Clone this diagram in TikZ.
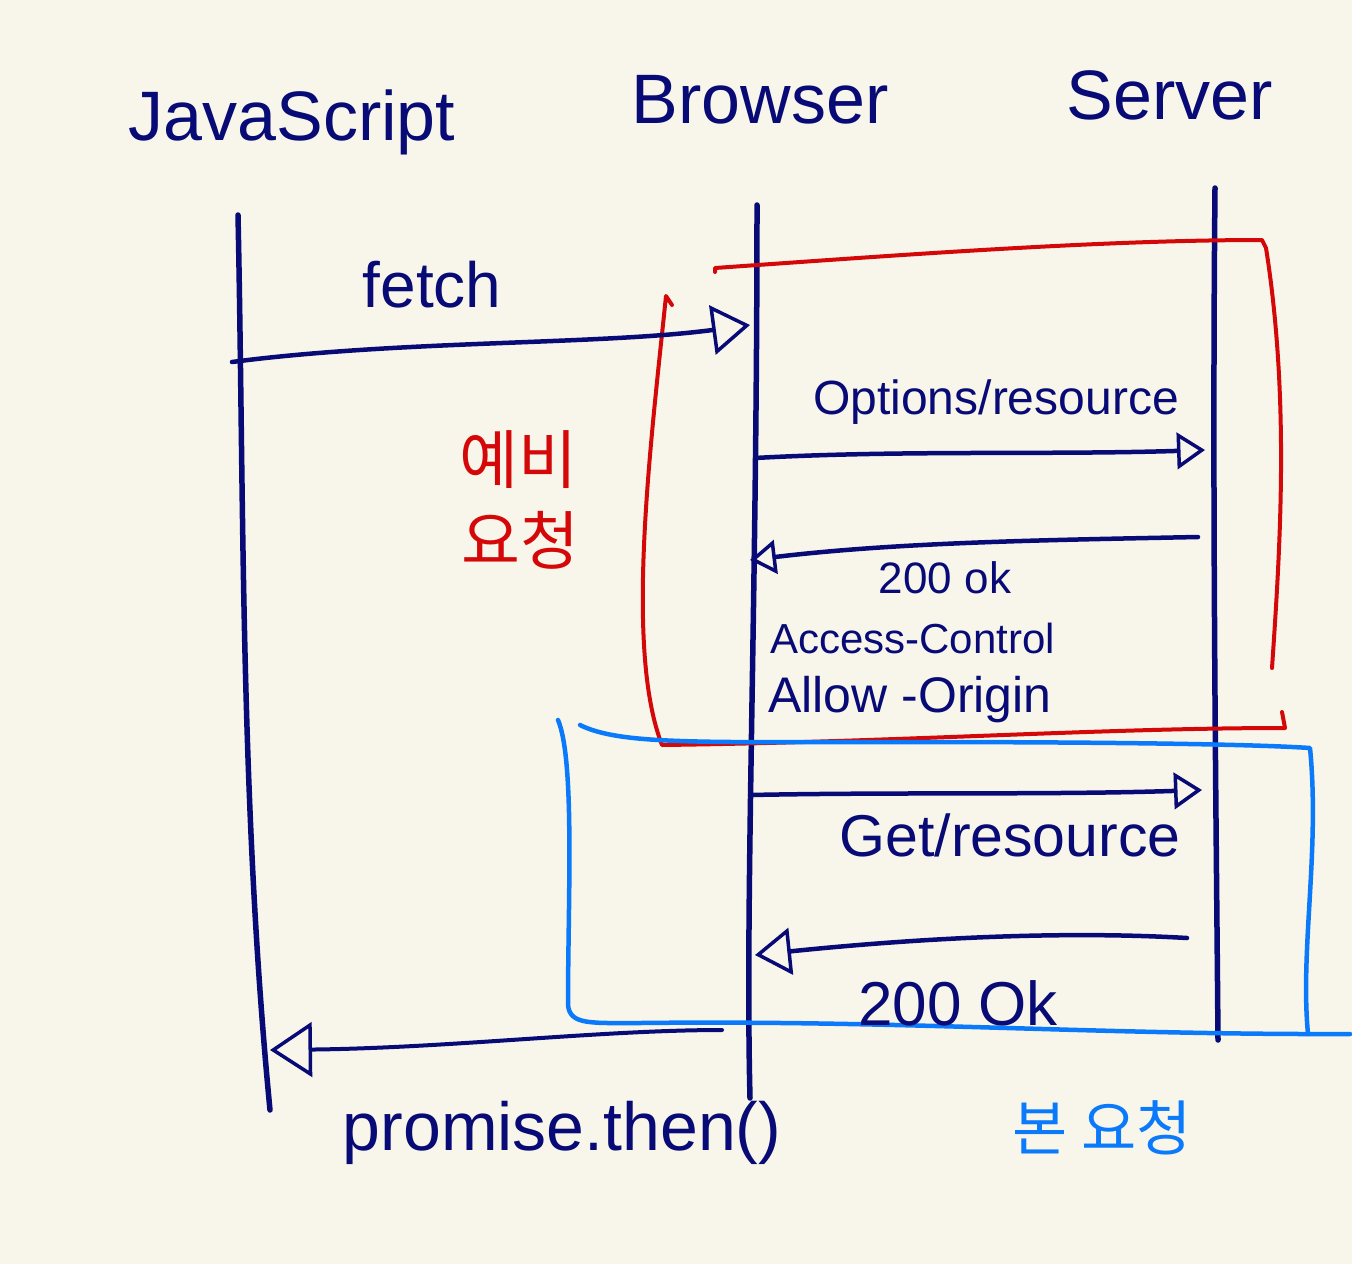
\documentclass[tikz,border=0pt]{standalone}
\usepackage{fontspec}
\setmainfont{Liberation Sans}
\newfontfamily\kor{Noto Sans CJK KR}
\usetikzlibrary{arrows.meta}
\definecolor{paper}{RGB}{248,246,234}
\definecolor{ink}{RGB}{8,10,118}
\definecolor{redink}{RGB}{212,8,8}
\definecolor{blueink}{RGB}{10,122,250}
\tikzset{
  lifeline/.style={draw=ink, line width=5.5pt, line cap=round},
  msg/.style={draw=ink, line width=4.5pt, line cap=round, line join=round},
  tip/.style={-{Triangle[open,length=#1,width=1.3*#1,line width=3.5pt]}},
  redbox/.style={draw=redink, line width=4pt, line cap=round, line join=round},
  bluebox/.style={draw=blueink, line width=4.5pt, line cap=round, line join=round},
  title/.style={text=ink, font=\fontsize{70}{70}\selectfont, inner sep=0pt},
  lbl/.style={text=ink, inner sep=0pt},
  redlbl/.style={text=redink, font=\kor\fontsize{64}{64}\selectfont, inner sep=0pt},
  bluelbl/.style={text=blueink, font=\kor\fontsize{60}{60}\selectfont, inner sep=0pt}
}
\begin{document}
\begin{tikzpicture}[x=1pt,y=-1pt]
\fill[paper] (0,0) rectangle (1352,1264);
\useasboundingbox (0,0) rectangle (1352,1264);

% titles
\node[title] (tjs) at (292,122) {JavaScript};
\node[title] (tbr) at (760,100) {Browser};
\node[title] (tsv) at (1170,95) {Server};

% lifelines
\coordinate (js1) at (238,215);
\coordinate (js2) at (270,1110);
\coordinate (br1) at (757,205);
\coordinate (br2) at (750,1098);
\coordinate (sv1) at (1215,188);
\coordinate (sv2) at (1218,1040);
\draw[lifeline] (js1) .. controls (244,500) and (240,800) .. (js2);
\draw[lifeline] (br1) .. controls (757,600) and (745,900) .. (br2);
\draw[lifeline] (sv1) .. controls (1212,500) and (1216,800) .. (sv2);

% red box (preflight)
\draw[redbox] (715,272) -- (715,268) .. controls (900,255) and (1100,240) .. (1262,240)
  -- (1266,248) .. controls (1290,400) and (1280,550) .. (1272,668);
\draw[redbox] (672,305) -- (666,296) .. controls (650,450) and (625,650) .. (662,745)
  .. controls (900,742) and (1100,728) .. (1285,728) -- (1282,712);

% blue box (main request)
\draw[bluebox] (558,720) .. controls (575,760) and (568,900) .. (568,1005)
  .. controls (570,1025) and (590,1023) .. (640,1023)
  .. controls (900,1020) and (1100,1035) .. (1350,1034);
\draw[bluebox] (580,725) .. controls (620,745) and (700,742) .. (900,742)
  .. controls (1100,742) and (1250,744) .. (1310,748)
  .. controls (1320,850) and (1300,950) .. (1308,1034);

% messages
\coordinate (f1) at (232,362);
\coordinate (f2) at (750,325);
\draw[msg, tip=38] (f1) .. controls (400,340) and (600,345) .. (f2);
\node[lbl, font=\fontsize{64}{64}\selectfont] (lf) at (432,285) {fetch};

\coordinate (o1) at (755,458);
\coordinate (o2) at (1205,450);
\draw[msg, tip=28] (o1) .. controls (900,450) and (1050,455) .. (o2);
\node[lbl, font=\fontsize{48}{48}\selectfont] (lo) at (996,402) {Options/resource};

\coordinate (r1) at (1198,537);
\coordinate (r2) at (750,560);
\draw[msg, tip=26] (r1) .. controls (1050,540) and (900,542) .. (r2);
\node[lbl, font=\fontsize{44}{44}\selectfont] (lr) at (945,578) {200 ok};
\node[lbl, font=\fontsize{42}{42}\selectfont, anchor=west] (lac) at (770,638) {Access-Control};
\node[lbl, font=\fontsize{50}{50}\selectfont, anchor=west] (lao) at (768,700) {Allow -Origin};

\coordinate (g1) at (750,795);
\coordinate (g2) at (1202,790);
\draw[msg, tip=28] (g1) .. controls (900,792) and (1050,795) .. (g2);
\node[lbl, font=\fontsize{59}{59}\selectfont] (lg) at (1010,835) {Get/resource};

\coordinate (k1) at (1187,938);
\coordinate (k2) at (755,955);
\draw[msg, tip=36] (k1) .. controls (1050,930) and (900,940) .. (k2);
\node[lbl, font=\fontsize{62}{62}\selectfont] (lk) at (958,1003) {200 Ok};

\coordinate (p1) at (722,1030);
\coordinate (p2) at (270,1050);
\draw[msg, line width=4pt, tip=42] (p1) .. controls (600,1030) and (450,1048) .. (p2);
\node[lbl, font=\fontsize{68}{68}\selectfont] (lp) at (562,1133) {promise.then()};

% korean labels
\node[redlbl] (ly) at (518,460) {예비};
\node[redlbl] (lq) at (520,540) {요청};
\node[bluelbl] (lb) at (1102,1128) {본 요청};
\end{tikzpicture}
\end{document}
